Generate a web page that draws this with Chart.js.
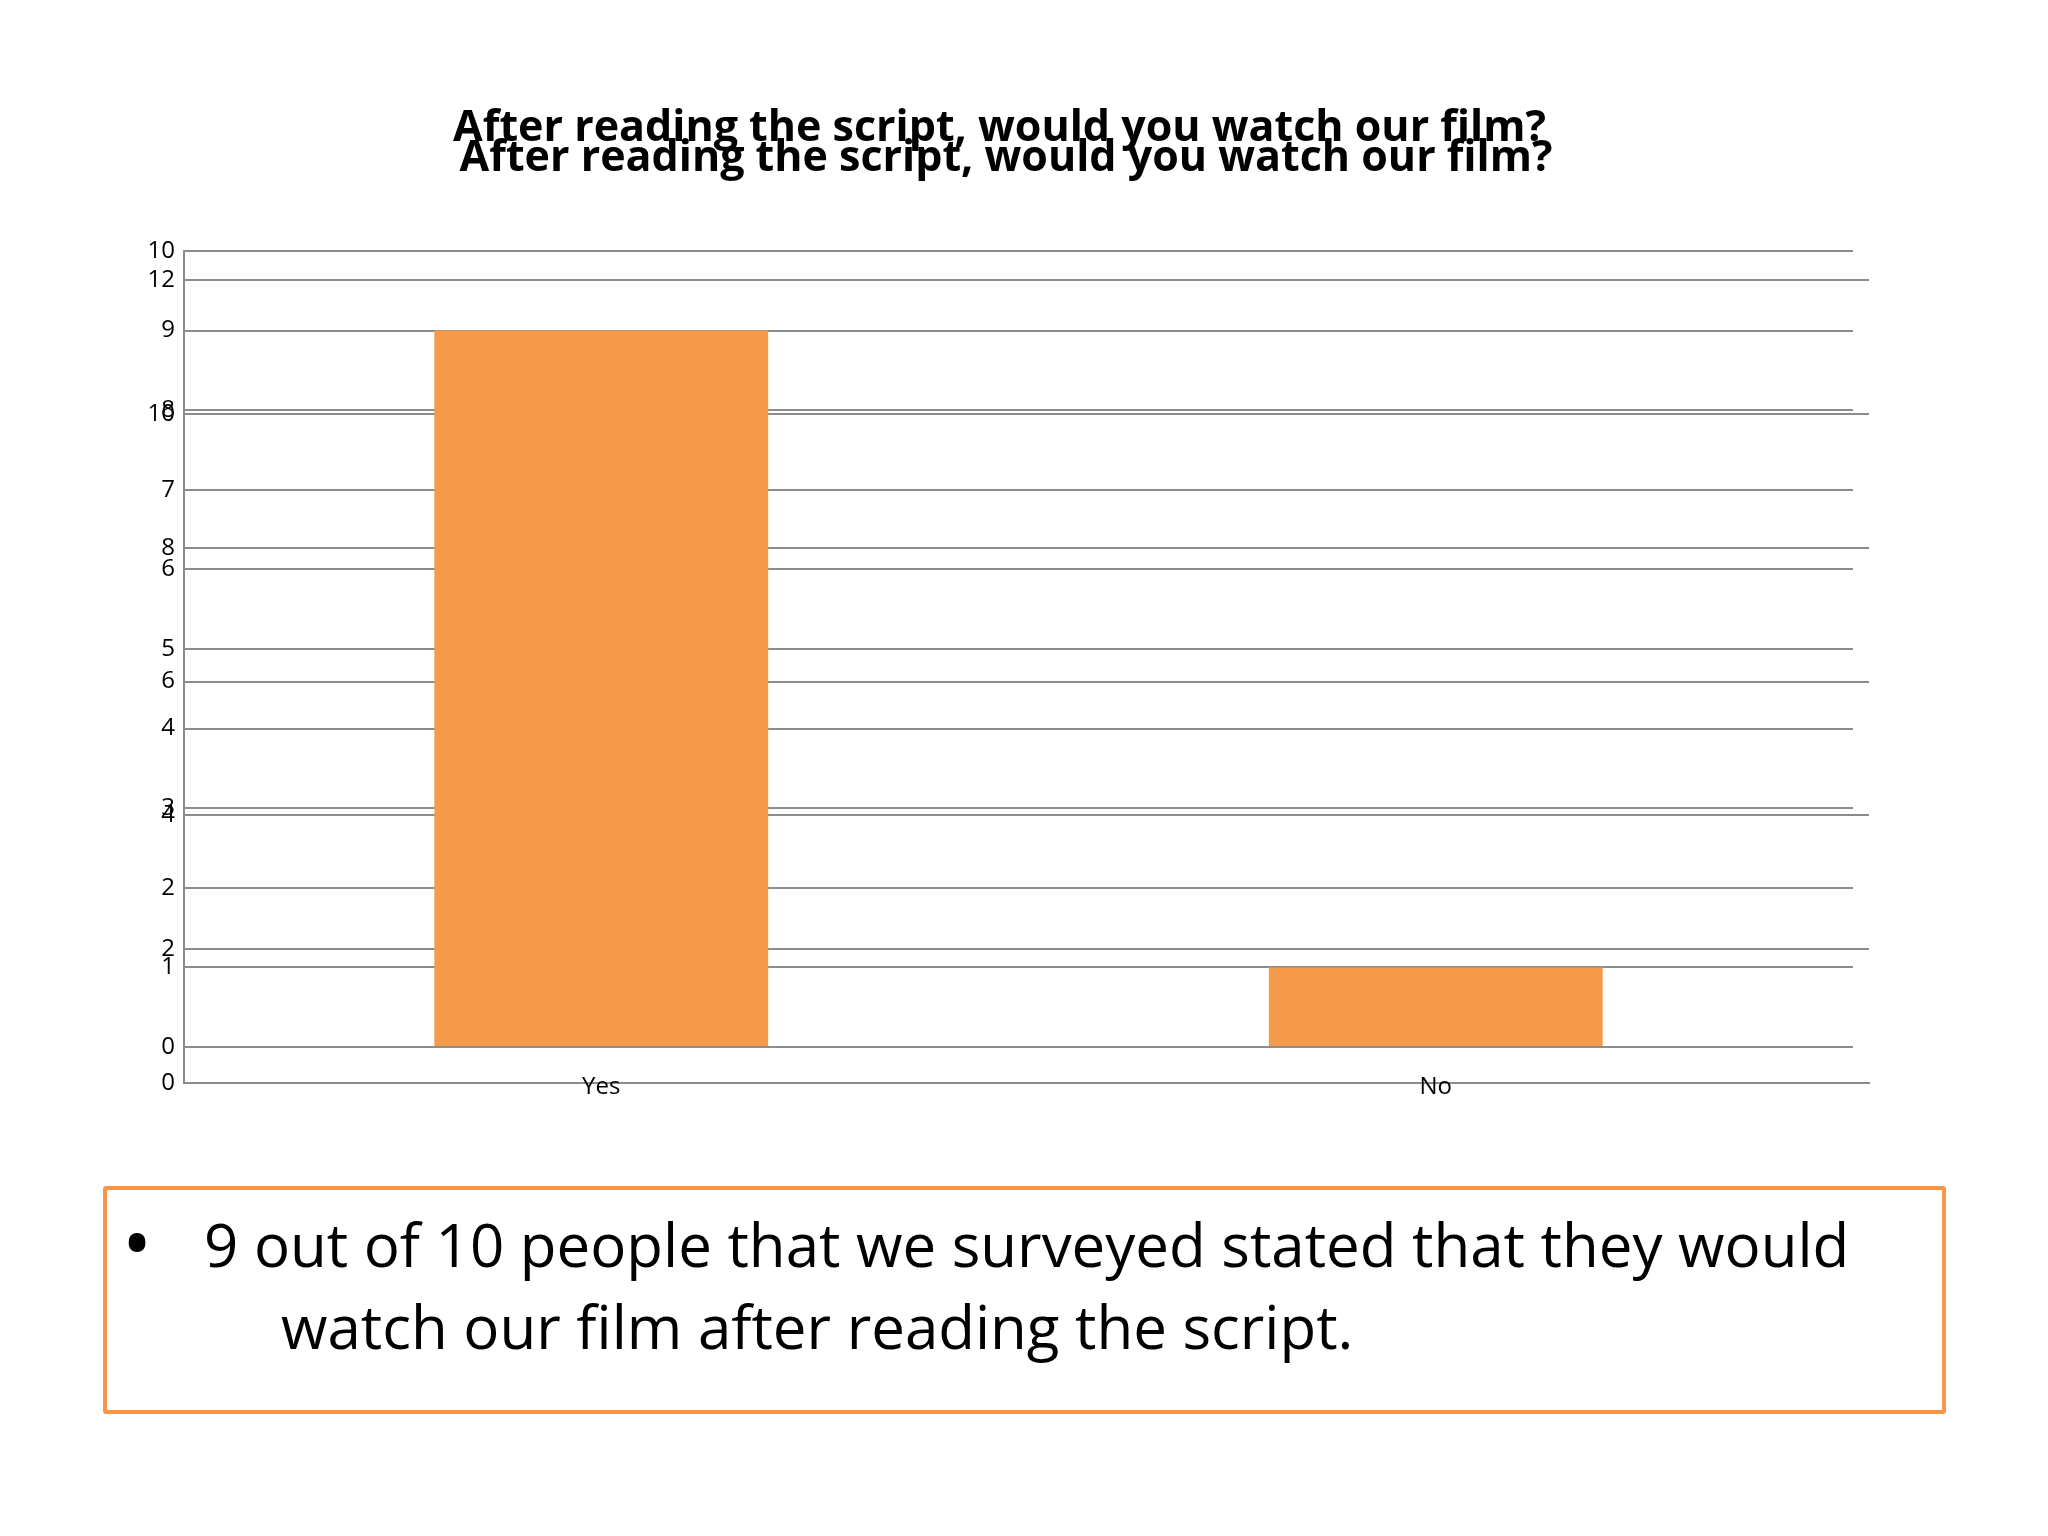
<!DOCTYPE html>
<html>
<head>
<meta charset="utf-8">
<title>After reading the script, would you watch our film?</title>
<script src="https://cdn.jsdelivr.net/npm/chart.js@4.4.1/dist/chart.umd.min.js"></script>
<style>
  html, body { margin: 0; padding: 0; background: #fff; }
  body { width: 2048px; height: 1536px; position: relative; overflow: hidden; font-family: 'Open Sans', sans-serif; }
  canvas { position: absolute; left: 0; top: 0; }
  #box {
    position: absolute; left: 103px; top: 1186px;
    width: 1835px; height: 220px;
    border: 4px solid #F79646; border-radius: 3px;
  }
  #bullet {
    position: absolute; left: 122px; top: 1201px;
    font-size: 80px; line-height: 80px; color: #000;
  }
  #summary {
    position: absolute; left: 204px; top: 1203px;
    font-size: 60px; line-height: 82px; color: #000; white-space: nowrap;
  }
  #summary .second { padding-left: 77px; }
</style>
</head>
<body>
<canvas id="back" width="2048" height="1536"></canvas>
<canvas id="front" width="2048" height="1536"></canvas>
<div id="box"></div>
<div id="bullet">•</div>
<div id="summary">
  <div>9 out of 10 people that we surveyed stated that they would</div>
  <div class="second">watch our film after reading the script.</div>
</div>
<script>
// survey answers
const CATEGORIES = ['Yes', 'No'];
const RESPONSES = [9, 1];
const TITLE = 'After reading the script, would you watch our film?';

// the slide has two copies of the chart stacked on top of each other,
// one with a 0-10 axis and one with a 0-12 axis
const FRONT_MAX = 10;
const FRONT_STEP = 1;
const BACK_MAX = 12;
const BACK_STEP = 2;

const GRID = '#8c8c8c';
const BAR = '#F49A48';

Chart.defaults.font.family = "'Open Sans', sans-serif";
Chart.defaults.color = '#000';

const fixWidth = w => scale => { scale.width = w; };
const fixHeight = h => scale => { scale.height = h; };

// back copy: 0-12 axis, only grid and axes
new Chart(document.getElementById('back'), {
  type: 'bar',
  data: { labels: CATEGORIES, datasets: [] },
  options: {
    responsive: false,
    animation: false,
    devicePixelRatio: 1,
    layout: { padding: { left: 143, right: 179, top: 0, bottom: 433 } },
    plugins: {
      legend: { display: false },
      tooltip: { enabled: false },
      title: {
        display: true, text: TITLE, color: '#000',
        font: { size: 43, weight: 'bold' },
        padding: { top: 133.2, bottom: 95.2 }
      }
    },
    scales: {
      x: {
        grid: { display: false, drawTicks: false },
        ticks: { display: false },
        border: { display: true, color: GRID, width: 2 },
        afterFit: fixHeight(20)
      },
      y: {
        min: 0, max: BACK_MAX,
        ticks: { stepSize: BACK_STEP, padding: 9, font: { size: 24 } },
        grid: { color: GRID, lineWidth: 2, drawTicks: false },
        border: { color: GRID, width: 2 },
        afterFit: fixWidth(41)
      }
    }
  }
});

// front copy: 0-10 axis with the bars
new Chart(document.getElementById('front'), {
  type: 'bar',
  data: {
    labels: CATEGORIES,
    datasets: [{
      label: 'Responses',
      data: RESPONSES,
      backgroundColor: BAR,
      borderWidth: 0,
      barPercentage: 0.5,
      categoryPercentage: 0.8
    }]
  },
  options: {
    responsive: false,
    animation: false,
    devicePixelRatio: 1,
    layout: { padding: { left: 146, right: 195, top: 0, bottom: 429 } },
    plugins: {
      legend: { display: false },
      tooltip: { enabled: false },
      title: {
        display: true, text: TITLE, color: '#000',
        font: { size: 43, weight: 'bold' },
        padding: { top: 103.2, bottom: 96.2 }
      }
    },
    scales: {
      x: {
        grid: { display: false, drawTicks: false },
        border: { display: false },
        ticks: { padding: 26, font: { size: 24 } },
        afterFit: fixHeight(60)
      },
      y: {
        min: 0, max: FRONT_MAX,
        ticks: { stepSize: FRONT_STEP, padding: 9, font: { size: 24 } },
        grid: { color: GRID, lineWidth: 2, drawTicks: false },
        border: { color: GRID, width: 2 },
        afterFit: fixWidth(38)
      }
    }
  }
});
</script>
</body>
</html>
